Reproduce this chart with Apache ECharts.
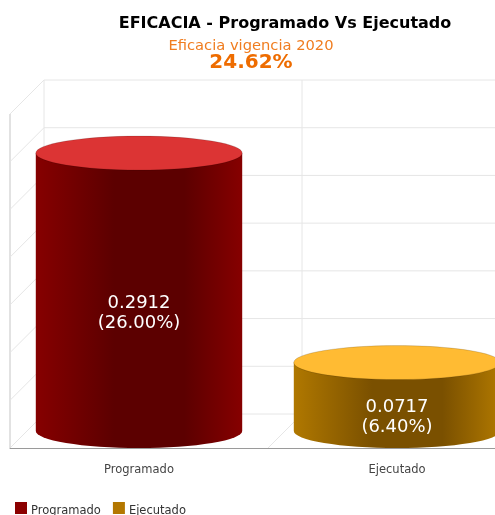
<!DOCTYPE html>
<html>
<head>
<meta charset="utf-8">
<style>
  html, body { margin: 0; padding: 0; background: #fff; overflow: hidden; }
  #chart { width: 495px; height: 515px; }
</style>
<script src="https://cdn.jsdelivr.net/npm/echarts@6/dist/echarts.min.js"></script>
</head>
<body>
<div id="chart"></div>
<script>
  const categories = ['Programado', 'Ejecutado']
  const values = [0.2912, 0.0717]
  const percents = ['26.00%', '6.40%']
  const tickValues = [0, 0.05, 0.1, 0.15, 0.2, 0.25, 0.3, 0.35]

  const FONT = '"DejaVu Sans", Verdana, sans-serif'
  const DEPTH = 34
  const RY = 17
  const colors = [
    { legend: '#8b0000', edge: '#860000', mid: '#5c0000', top: '#dc3434' },
    { legend: '#b37700', edge: '#b07800', mid: '#7a5000', top: '#ffbb33' }
  ]

  // pared del fondo, pared izquierda y piso
  function renderWalls(params, api) {
    const cs = params.coordSys
    const band = cs.width / categories.length
    const y = api.coord([0, api.value(0)])[1]
    const line = { stroke: '#e6e6e6', lineWidth: 1 }
    const children = [
      { type: 'line', shape: { x1: cs.x + DEPTH, y1: y - DEPTH, x2: cs.x + cs.width, y2: y - DEPTH }, style: line },
      { type: 'line', shape: { x1: cs.x, y1: y, x2: cs.x + DEPTH, y2: y - DEPTH }, style: line }
    ]
    if (params.dataIndex === 0) {
      const top = cs.y - DEPTH
      const bottom = cs.y + cs.height - DEPTH
      children.push(
        { type: 'line', shape: { x1: cs.x, y1: cs.y, x2: cs.x, y2: cs.y + cs.height }, style: { stroke: '#d8d8d8', lineWidth: 1.5 } },
        { type: 'line', shape: { x1: cs.x + DEPTH, y1: top, x2: cs.x + DEPTH, y2: bottom }, style: line },
        { type: 'line', shape: { x1: cs.x + band + DEPTH, y1: top, x2: cs.x + band + DEPTH, y2: bottom }, style: line },
        { type: 'line', shape: { x1: cs.x + band, y1: cs.y + cs.height, x2: cs.x + band + DEPTH, y2: bottom }, style: line }
      )
    }
    return { type: 'group', children: children }
  }

  function renderCylinder(index) {
    return function (params, api) {
      const c = colors[index]
      const p0 = api.coord([api.value(0), 0])
      const p1 = api.coord([api.value(0), api.value(1)])
      const half = api.size([1, 0])[0] * 0.8 / 2
      const cx = p0[0]
      const yBase = p0[1] - DEPTH / 2
      const yTop = p1[1] - DEPTH / 2
      const body = 'M' + (cx - half) + ' ' + yTop +
        ' L' + (cx - half) + ' ' + yBase +
        ' A' + half + ' ' + RY + ' 0 0 0 ' + (cx + half) + ' ' + yBase +
        ' L' + (cx + half) + ' ' + yTop + ' Z'
      return {
        type: 'group',
        children: [
          {
            type: 'path',
            shape: { pathData: body, layout: 'cover', x: cx - half, y: yTop, width: half * 2, height: yBase + RY - yTop },
            style: {
              fill: new echarts.graphic.LinearGradient(0, 0, 1, 0, [
                { offset: 0, color: c.edge },
                { offset: 0.38, color: c.mid },
                { offset: 0.72, color: c.mid },
                { offset: 1, color: c.edge }
              ])
            }
          },
          {
            type: 'ellipse',
            shape: { cx: cx, cy: yTop, rx: half, ry: RY },
            style: { fill: c.top, stroke: 'rgba(0,0,0,0.15)', lineWidth: 1 }
          },
          {
            type: 'text',
            x: cx,
            y: (yTop + yBase) / 2 + 21,
            style: {
              text: values[index].toFixed(4) + '\n(' + percents[index] + ')',
              fill: '#fff',
              font: '18px ' + FONT,
              lineHeight: 20,
              align: 'center',
              verticalAlign: 'middle'
            }
          }
        ]
      }
    }
  }

  const chart = echarts.init(document.getElementById('chart'), null, { renderer: 'canvas' })

  const series = [{
    type: 'custom',
    silent: true,
    z: 1,
    clip: false,
    renderItem: renderWalls,
    data: tickValues.map(function (t) { return [t] }),
    encode: { y: 0 }
  }]
  categories.forEach(function (name, i) {
    series.push({
      name: name,
      type: 'custom',
      z: 3,
      clip: false,
      itemStyle: { color: colors[i].legend },
      renderItem: renderCylinder(i),
      data: [[i, values[i]]],
      encode: { x: 0, y: 1 }
    })
  })

  chart.setOption({
    animation: false,
    backgroundColor: '#fff',
    title: [
      { text: 'EFICACIA - Programado Vs Ejecutado', left: 280, top: 11, textAlign: 'center', textStyle: { fontFamily: FONT, fontSize: 16, fontWeight: 'bold', color: '#000' } },
      { text: 'Eficacia vigencia 2020', left: 246, top: 34, textAlign: 'center', textStyle: { fontFamily: FONT, fontSize: 14.7, fontWeight: 'normal', color: '#f07d20' } },
      { text: '24.62%', left: 246, top: 48, textAlign: 'center', textStyle: { fontFamily: FONT, fontSize: 20, fontWeight: 'bold', color: '#ee6c00' } }
    ],
    legend: {
      left: 15,
      top: 502,
      padding: 0,
      itemWidth: 12,
      itemHeight: 12,
      itemGap: 12,
      icon: 'rect',
      selectedMode: false,
      data: categories,
      formatter: function (name) { return '{a|' + name + '}' },
      textStyle: {
        rich: { a: { fontFamily: FONT, fontSize: 11.5, color: '#333', padding: [6, 0, 0, -1] } }
      }
    },
    grid: { left: 10, top: 114, width: 516, height: 334, containLabel: false, outerBoundsMode: 'none' },
    xAxis: {
      type: 'category',
      data: categories,
      axisLine: { lineStyle: { color: '#9a9a9a', width: 1 } },
      axisTick: { alignWithLabel: true, length: 5, lineStyle: { color: '#aaa' } },
      axisLabel: { fontFamily: FONT, fontSize: 11.5, color: '#444', margin: 16 }
    },
    yAxis: {
      type: 'value',
      min: 0,
      max: 0.35,
      interval: 0.05,
      show: false
    },
    series: series
  })
</script>
</body>
</html>
